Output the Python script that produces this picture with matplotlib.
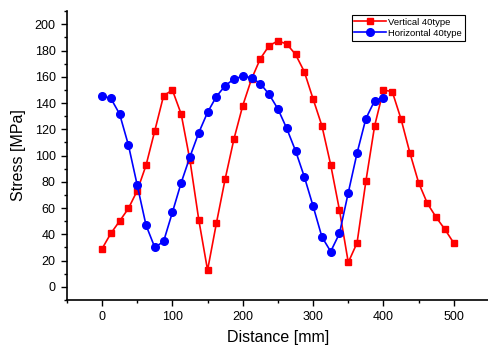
import matplotlib
matplotlib.use("Agg")
import matplotlib.pyplot as plt
from matplotlib.ticker import MultipleLocator

# ── Data ──────────────────────────────────────────────────────────────────────

vert_x = [i * 12.5 for i in range(41)]
vert_y = [29.0, 40.7, 50.1, 59.7, 73.2, 92.5, 118.9, 145.6, 149.9, 131.6,
          96.3, 51.1, 12.7, 48.3, 82.1, 112.6, 138.0, 158.3, 173.8, 183.7,
          187.3, 185.0, 177.1, 163.9, 143.1, 122.7, 93.0, 58.4, 18.6, 33.5,
          80.3, 122.7, 149.9, 148.7, 127.8, 102.2, 79.3, 63.5, 52.9, 43.7,
          33.3]

horiz_x = [i * 12.5 for i in range(33)]
horiz_y = [145.4, 143.6, 131.6, 108.0, 77.5, 47.0, 30.0, 34.6, 56.7, 79.3,
           99.1, 117.4, 132.9, 144.9, 153.2, 158.3, 160.4, 159.3, 154.8, 146.6,
           135.5, 120.7, 103.7, 83.9, 61.5, 38.1, 26.9, 40.7, 71.7, 101.9,
           128.1, 141.8, 144.1]

labels = ["Vertical 40type", "Horizontal 40type"]

# ── Plot ──────────────────────────────────────────────────────────────────────

plt.rcParams["font.family"] = ["Liberation Sans", "DejaVu Sans"]

fig = plt.figure(figsize=(4.88, 3.48), dpi=100)
ax = fig.add_axes([0.137, 0.138, 0.865, 0.830])

ax.plot(vert_x, vert_y, color="#FF0000", marker="s", markersize=5,
        linewidth=1.2, label=labels[0])
ax.plot(horiz_x, horiz_y, color="#0000FF", marker="o", markersize=5.5,
        linewidth=1.2, label=labels[1])

ax.set_xlim(-50, 550)
ax.set_ylim(-10, 210)
ax.xaxis.set_major_locator(MultipleLocator(100))
ax.xaxis.set_minor_locator(MultipleLocator(50))
ax.yaxis.set_major_locator(MultipleLocator(20))
ax.yaxis.set_minor_locator(MultipleLocator(10))
ax.tick_params(which="major", direction="out", length=4, width=1,
               labelsize=9, pad=4)
ax.tick_params(which="minor", direction="out", length=2.5, width=1)

for s in ("top", "right"):
    ax.spines[s].set_visible(False)
for s in ("left", "bottom"):
    ax.spines[s].set_linewidth(1.2)

ax.set_xlabel("Distance [mm]", fontsize=11.5, labelpad=5)
ax.set_ylabel("Stress [MPa]", fontsize=11.5, labelpad=6)

leg = ax.legend(loc="upper right", bbox_to_anchor=(0.953, 0.957),
                bbox_transform=fig.transFigure, fontsize=6.8,
                fancybox=False, framealpha=1, edgecolor="black",
                borderaxespad=0, borderpad=0.3, handlelength=3.3,
                labelspacing=0.2, handletextpad=0.3)
leg.get_frame().set_linewidth(0.8)

fig.savefig("out.png", dpi=100)
